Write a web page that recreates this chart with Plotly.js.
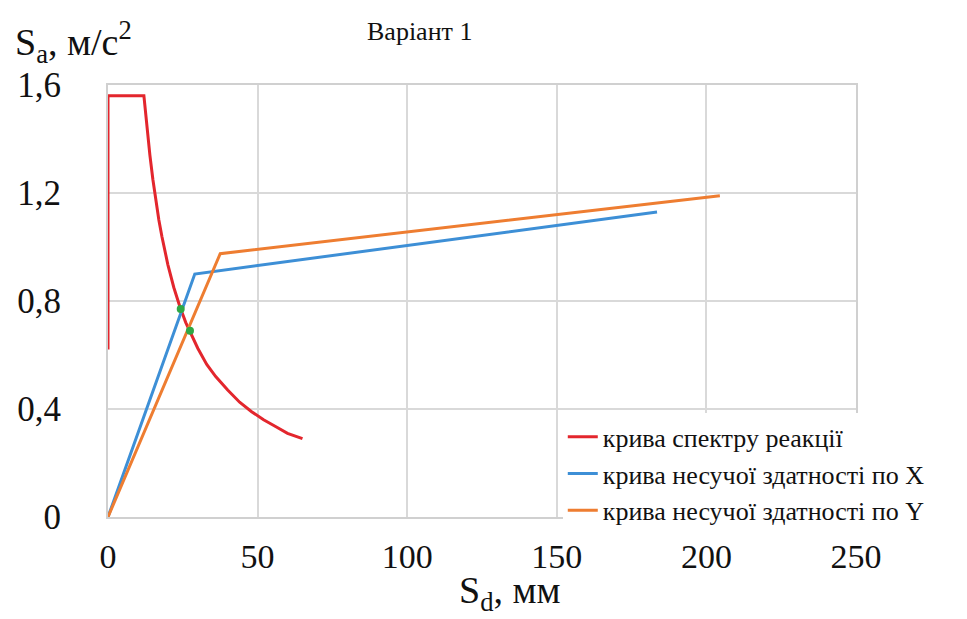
<!DOCTYPE html>
<html>
<head>
<meta charset="utf-8">
<script src="https://cdn.plot.ly/plotly-3.0.1.min.js"></script>
<style>html,body{margin:0;padding:0;background:#fff;}#chart{width:967px;height:619px;}</style>
</head>
<body>
<div id="chart"></div>
<script>
// Response spectrum curve (Sd, mm ; Sa, m/s2)
const spectrumSd = [0, 0, 12, 13, 14, 15, 16, 17, 18, 19, 20, 22, 24, 26, 28, 30, 33, 36, 40, 44, 48, 52, 56, 60, 65];
const spectrumSa = [0.62, 1.56, 1.56, 1.44, 1.34, 1.25, 1.17, 1.10, 1.04, 0.985, 0.935, 0.85, 0.78, 0.72, 0.67, 0.625, 0.565, 0.52, 0.47, 0.425, 0.39, 0.36, 0.335, 0.31, 0.29];
// Capacity curve X
const capXSd = [0, 29, 183.5];
const capXSa = [0, 0.90, 1.13];
// Capacity curve Y
const capYSd = [0, 37.5, 204.5];
const capYSa = [0, 0.975, 1.19];
// Performance points (intersections)
const perfSd = [24.3, 27.4];
const perfSa = [0.77, 0.69];
// Names and tick labels
const seriesNames = ["крива спектру реакції", "крива несучої здатності по X", "крива несучої здатності по Y"];
const yTickVals = [0, 0.4, 0.8, 1.2, 1.6];
const yTickText = ["0", "0,4", "0,8", "1,2", "1,6"];
const xTickVals = [0, 50, 100, 150, 200, 250];
const xTickText = ["0", "50", "100", "150", "200", "250"];

const serif = "Times New Roman, Liberation Serif, DejaVu Serif, serif";

const traces = [
  {x: spectrumSd, y: spectrumSa, mode: "lines", name: seriesNames[0],
   line: {color: "#e3262d", width: 3}},
  {x: capXSd, y: capXSa, mode: "lines", name: seriesNames[1],
   line: {color: "#3d8fd6", width: 3}},
  {x: capYSd, y: capYSa, mode: "lines", name: seriesNames[2],
   line: {color: "#ee7d31", width: 3}},
  {x: perfSd, y: perfSa, mode: "markers", showlegend: false,
   marker: {color: "#2fa844", size: 8}}
];

const layout = {
  width: 967, height: 619,
  margin: {l: 108, r: 111, t: 85, b: 102},
  paper_bgcolor: "#fff", plot_bgcolor: "#fff",
  font: {family: serif, color: "#111"},
  showlegend: true,
  legend: {
    x: 0.608, y: 0.24, xanchor: "left", yanchor: "top",
    bgcolor: "#ffffff", borderwidth: 0,
    font: {family: serif, size: 26, color: "#111"},
    itemwidth: 30, tracegroupgap: 0
  },
  xaxis: {
    range: [0, 250], tickvals: xTickVals, ticktext: xTickText,
    showgrid: true, gridcolor: "#d9d9d9", gridwidth: 2,
    showline: true, linecolor: "#d0d0d0", linewidth: 2, mirror: true,
    zeroline: false, ticks: "", layer: "below traces",
    tickfont: {family: serif, size: 34, color: "#111"},
    ticklabelstandoff: 8, fixedrange: true
  },
  yaxis: {
    range: [0, 1.6], tickvals: yTickVals, ticktext: yTickText,
    showgrid: true, gridcolor: "#d9d9d9", gridwidth: 2,
    showline: true, linecolor: "#d0d0d0", linewidth: 2, mirror: true,
    zeroline: false, ticks: "", layer: "below traces",
    tickfont: {family: serif, size: 35, color: "#111"},
    ticklabelstandoff: 38, fixedrange: true
  },
  annotations: [
    {text: "Варіант 1", xref: "paper", yref: "paper", x: 0.417, y: 1.1227,
     xanchor: "center", yanchor: "middle", showarrow: false,
     font: {family: serif, size: 26, color: "#111"}},
    {text: "S<sub>a</sub>, м/с<sup>2</sup>", xref: "paper", yref: "paper", x: -0.127, y: 1.1,
     xanchor: "left", yanchor: "middle", showarrow: false,
     font: {family: serif, size: 38, color: "#111"}},
    {text: "S<sub>d</sub>, мм", xref: "paper", yref: "paper", x: 0.537, y: -0.175,
     xanchor: "center", yanchor: "middle", showarrow: false,
     font: {family: serif, size: 38, color: "#111"}}
  ]
};

Plotly.newPlot("chart", traces, layout, {displayModeBar: false, staticPlot: true});
</script>
</body>
</html>
